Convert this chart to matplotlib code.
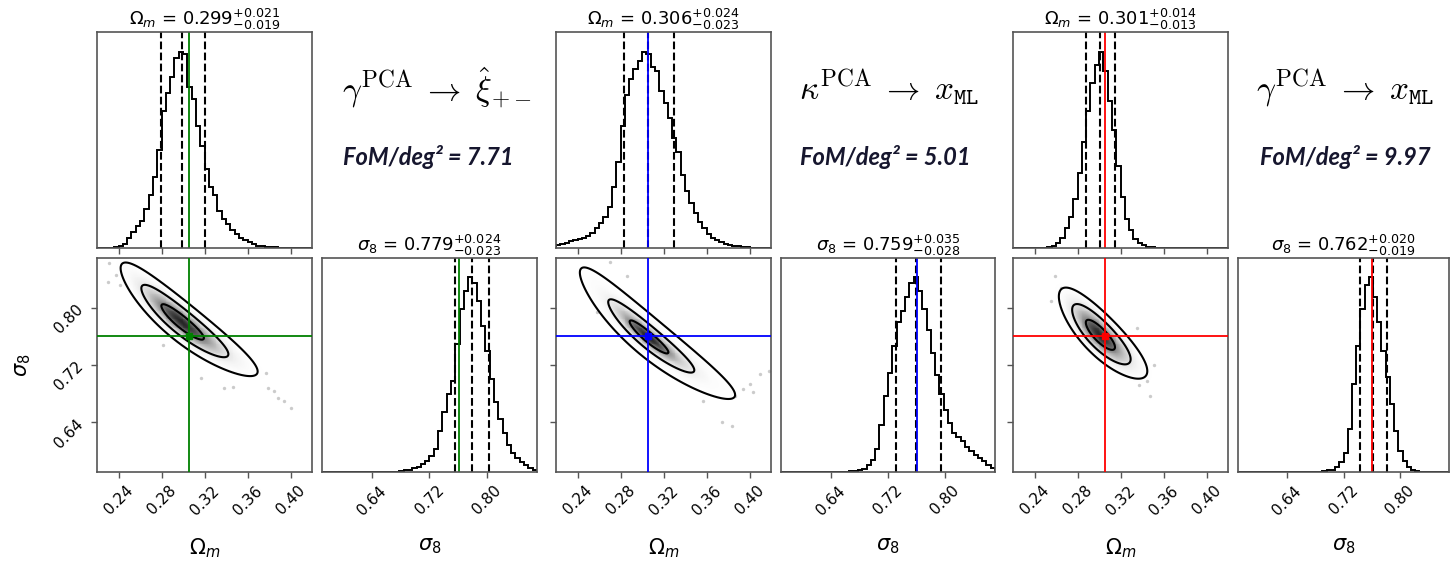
import numpy as np
import matplotlib
matplotlib.use('Agg')
import matplotlib.pyplot as plt
from matplotlib.colors import LinearSegmentedColormap

# ---- data ----
labels_big = [r'$\gamma^{\rm PCA} \;\rightarrow\; \hat{\xi}_{+-}$',
              r'$\kappa^{\rm PCA} \;\rightarrow\; x_{\mathtt{ML}}$',
              r'$\gamma^{\rm PCA} \;\rightarrow\; x_{\mathtt{ML}}$']
fom = [7.71, 5.01, 9.97]
truth_colors = ['green', 'blue', 'red']
truth_om = 0.306
truth_s8 = 0.761

# medians and errors (from the titles)
om_med = [0.299, 0.306, 0.301]
om_plus = [0.021, 0.024, 0.014]
om_minus = [0.019, 0.023, 0.013]
s8_med = [0.779, 0.759, 0.762]
s8_plus = [0.024, 0.035, 0.020]
s8_minus = [0.023, 0.028, 0.019]

# 1d histograms, 50 bins each (normalised to peak)
om_edges = np.linspace(0.22, 0.42, 51)
s8_edges = np.linspace(0.57, 0.87, 51)

om_hist_1 = [0, 0, 0, 0, 0.005, 0.01, 0.02, 0.05, 0.08, 0.11, 0.14, 0.20, 0.27, 0.36,
             0.50, 0.70, 0.79, 0.87, 0.97, 1.00, 0.99, 0.82, 0.76, 0.62,
             0.52, 0.40, 0.31, 0.27, 0.19, 0.15, 0.12, 0.09, 0.07, 0.05,
             0.04, 0.03, 0.02, 0.012, 0.01, 0.007, 0.005, 0.003] + [0] * 8
om_hist_2 = [0.015, 0.02, 0.025, 0.035, 0.04, 0.045, 0.05, 0.06, 0.075, 0.10,
             0.125, 0.16, 0.21, 0.31, 0.44, 0.62, 0.78, 0.86, 0.91, 0.95,
             1.0, 0.99, 0.92, 0.90, 0.80, 0.74, 0.66, 0.56, 0.49, 0.37,
             0.29, 0.23, 0.18, 0.13, 0.10, 0.07, 0.05, 0.04, 0.03, 0.022,
             0.016, 0.012, 0.008, 0.005, 0.003, 0, 0, 0, 0, 0]
om_hist_3 = [0] * 8 + [0.003, 0.01, 0.025, 0.05, 0.10, 0.16, 0.25, 0.38, 0.54, 0.70,
                       0.84, 0.93, 1.0, 0.90, 0.75, 0.60, 0.42, 0.26, 0.15, 0.09,
                       0.045, 0.025, 0.013, 0.006, 0.003] + [0] * 17

s8_hist_1 = [0] * 18 + [0.005, 0.01, 0.012, 0.018, 0.025, 0.04, 0.055, 0.08, 0.12, 0.21,
                        0.31, 0.40, 0.47, 0.66, 0.84, 0.93, 1.0, 0.97, 0.88, 0.75,
                        0.62, 0.48, 0.36, 0.27, 0.20, 0.14, 0.10, 0.07, 0.05, 0.035,
                        0.02, 0.012]
s8_hist_2 = [0] * 16 + [0.004, 0.006, 0.01, 0.015, 0.035, 0.06, 0.12, 0.24, 0.39, 0.51,
                        0.65, 0.77, 0.83, 0.90, 0.97, 1.0, 0.93, 0.84, 0.73, 0.61,
                        0.50, 0.40, 0.32, 0.25, 0.20, 0.18, 0.16, 0.13, 0.11, 0.085,
                        0.07, 0.055, 0.035, 0.02]
s8_hist_3 = [0] * 20 + [0.004, 0.008, 0.012, 0.025, 0.05, 0.10, 0.22, 0.45, 0.65, 0.84,
                        0.96, 1.0, 0.90, 0.77, 0.62, 0.49, 0.35, 0.21, 0.11, 0.055,
                        0.028, 0.01, 0.004] + [0] * 7
om_hists = [om_hist_1, om_hist_2, om_hist_3]
s8_hists = [s8_hist_1, s8_hist_2, s8_hist_3]

# 2d posterior shape (centre, scale, correlation, tail)
c_om = [0.299, 0.306, 0.301]
c_s8 = [0.780, 0.759, 0.762]
sc_om = [0.0195, 0.0175, 0.0135]
sc_s8 = [0.0245, 0.0225, 0.021]
rho = [-0.91, -0.93, -0.82]
tail_nu = [30, 8, 200]

# stray samples outside the outer contour
pts_om_1 = [0.2316, 0.2379, 0.230, 0.241, 0.3774, 0.3789, 0.3851, 0.3944, 0.4007, 0.3882, 0.317, 0.2812, 0.3386, 0.3463]
pts_s8_1 = [0.863, 0.8467, 0.837, 0.8327, 0.7088, 0.6877, 0.683, 0.6689, 0.6597, 0.6737, 0.7017, 0.7485, 0.6877, 0.6886]
pts_om_2 = [0.41, 0.4177, 0.4007, 0.3944, 0.3867, 0.3758, 0.3743, 0.3836, 0.3572, 0.4037, 0.2704, 0.286, 0.258]
pts_s8_2 = [0.7074, 0.712, 0.6933, 0.6863, 0.6769, 0.6745, 0.6394, 0.6348, 0.6699, 0.6815, 0.864, 0.8453, 0.7938]
pts_om_3 = [0.2595, 0.2549, 0.3479, 0.3448, 0.3371, 0.3511, 0.3355, 0.2642]
pts_s8_3 = [0.8444, 0.8093, 0.6759, 0.697, 0.6924, 0.7204, 0.7719, 0.8281]
pts_om = [pts_om_1, pts_om_2, pts_om_3]
pts_s8 = [pts_s8_1, pts_s8_2, pts_s8_3]

om_ticks = [0.24, 0.28, 0.32, 0.36, 0.40]
s8_ticks = [0.64, 0.72, 0.80]

# ---- layout (pixels) ----
W, H = 1451, 562
main_x = [(97, 312), (556, 771), (1013, 1228)]
side_x = [(322, 537), (781, 995), (1238, 1449)]
big_x = [437, 889, 1345]
fom_x = [428, 885, 1345]

def rect(x0, y0, x1, y1):
    return [x0 / W, 1 - y1 / H, (x1 - x0) / W, (y1 - y0) / H]

spine_col = '#555555'

def style(ax):
    for s in ax.spines.values():
        s.set_color(spine_col)
        s.set_linewidth(1.2)
    ax.tick_params(direction='out', length=4.5, width=1, color=spine_col, labelsize=11)

dens_cmap = LinearSegmentedColormap.from_list('dens', [(0, 0, 0, 0), (0, 0, 0, 0.85)])

gom = np.linspace(0.15, 0.50, 400)
gs8 = np.linspace(0.50, 1.00, 400)
OM, S8 = np.meshgrid(gom, gs8)

fig = plt.figure(figsize=(W / 100, H / 100), dpi=100)

for i in range(3):
    tc = truth_colors[i]
    qo = [om_med[i] - om_minus[i], om_med[i], om_med[i] + om_plus[i]]
    qs = [s8_med[i] - s8_minus[i], s8_med[i], s8_med[i] + s8_plus[i]]

    # top: Omega_m histogram
    ax = fig.add_axes(rect(main_x[i][0], 32, main_x[i][1], 248))
    ax.stairs(om_hists[i], om_edges, color='k', lw=1.4)
    for q in qo:
        ax.axvline(q, color='k', ls='--', lw=1.5)
    ax.axvline(truth_om, color=tc, lw=1.3)
    ax.set_xlim(0.22, 0.42)
    ax.set_ylim(0, 1.1 * max(om_hists[i]))
    ax.set_yticks([])
    ax.set_xticks(om_ticks)
    ax.set_xticklabels([])
    style(ax)
    ax.set_title(r'$\Omega_m$ = $%.3f^{+%.3f}_{-%.3f}$' % (om_med[i], om_plus[i], om_minus[i]),
                 fontsize=13, pad=3)

    # 2d contours
    ax = fig.add_axes(rect(main_x[i][0], 258, main_x[i][1], 472))
    u = (np.log(OM) - np.log(c_om[i])) / (sc_om[i] / c_om[i])
    v = (np.log(S8) - np.log(c_s8[i])) / (sc_s8[i] / c_s8[i])
    r2 = (u ** 2 - 2 * rho[i] * u * v + v ** 2) / (1 - rho[i] ** 2)
    D = (1 + r2 / tail_nu[i]) ** (-(tail_nu[i] + 2) / 2)
    flat = np.sort(D.ravel())[::-1]
    cum = np.cumsum(flat) / flat.sum()
    levels = sorted([flat[np.searchsorted(cum, m)] for m in [0.393, 0.865, 0.989]])
    ax.scatter(pts_om[i], pts_s8[i], s=6, color='#999999', alpha=0.5, lw=0, zorder=1)
    ax.contourf(OM, S8, D, [levels[0], D.max()], colors='white', zorder=2)
    ax.pcolormesh(OM, S8, D / D.max(), cmap=dens_cmap, vmin=0, vmax=1, shading='auto', zorder=3)
    ax.contour(OM, S8, D, levels, colors='k', linewidths=1.5, zorder=4)
    ax.axvline(truth_om, color=tc, lw=1.3, zorder=5)
    ax.axhline(truth_s8, color=tc, lw=1.3, zorder=5)
    ax.plot([truth_om], [truth_s8], 's', color=tc, ms=5, zorder=6)
    ax.set_xlim(0.22, 0.42)
    ax.set_ylim(0.57, 0.87)
    ax.set_xticks(om_ticks)
    ax.set_yticks(s8_ticks)
    style(ax)
    for l in ax.get_xticklabels():
        l.set_rotation(45)
    if i == 0:
        for l in ax.get_yticklabels():
            l.set_rotation(45)
        ax.set_ylabel(r'$\sigma_8$', fontsize=15)
        ax.yaxis.set_label_coords(-0.30, 0.5)
    else:
        ax.set_yticklabels([])
    ax.set_xlabel(r'$\Omega_m$', fontsize=15)
    ax.xaxis.set_label_coords(0.5, -0.30)

    # side: sigma_8 histogram
    ax = fig.add_axes(rect(side_x[i][0], 258, side_x[i][1], 472))
    ax.stairs(s8_hists[i], s8_edges, color='k', lw=1.4)
    for q in qs:
        ax.axvline(q, color='k', ls='--', lw=1.5)
    ax.axvline(truth_s8, color=tc, lw=1.3)
    ax.set_xlim(0.57, 0.87)
    ax.set_ylim(0, 1.1 * max(s8_hists[i]))
    ax.set_yticks([])
    ax.set_xticks(s8_ticks)
    style(ax)
    for l in ax.get_xticklabels():
        l.set_rotation(45)
    ax.set_title(r'$\sigma_8$ = $%.3f^{+%.3f}_{-%.3f}$' % (s8_med[i], s8_plus[i], s8_minus[i]),
                 fontsize=13, pad=3)
    ax.set_xlabel(r'$\sigma_8$', fontsize=15)
    ax.xaxis.set_label_coords(0.5, -0.30)

    # annotations
    fig.text(big_x[i] / W, 1 - 88 / H, labels_big[i], ha='center', va='center',
             fontsize=24, math_fontfamily='cm')
    fig.text(fom_x[i] / W, 1 - 157 / H, 'FoM/deg² = %.2f' % fom[i], ha='center', va='center',
             fontsize=17, family=['Lato', 'DejaVu Sans'], style='italic', weight='bold',
             color='#16162e')

fig.savefig('out.png', dpi=100)
